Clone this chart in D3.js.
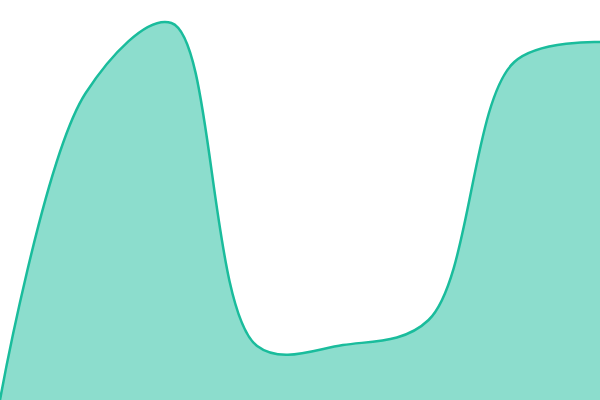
<!DOCTYPE html>
<html>
<head>
<meta charset="utf-8">
<script src="https://cdn.jsdelivr.net/npm/d3@7"></script>
<style>
  body { margin: 0; background: #fff; }
  svg { display: block; }
</style>
</head>
<body>
<svg id="chart"></svg>
<script>
// data
const categories = d3.range(8);
const values = [0, 76.75, 94.25, 13.5, 13.75, 20, 84.5, 89.5];

const width = 600;
const height = 400;

const svg = d3.select('#chart')
  .attr('width', width)
  .attr('height', height);

const xScale = d3.scalePoint()
  .domain(categories)
  .range([0, width]);

const yScale = d3.scaleLinear()
  .domain([0, 100])
  .range([height, 0]);

const area = d3.area()
  .x((d, i) => xScale(categories[i]))
  .y0(height)
  .y1(d => yScale(d))
  .curve(d3.curveCatmullRom);

const line = d3.line()
  .x((d, i) => xScale(categories[i]))
  .y(d => yScale(d))
  .curve(d3.curveCatmullRom);

svg.append('path')
  .datum(values)
  .attr('d', area)
  .attr('fill', '#1abc9c')
  .attr('fill-opacity', 0.5);

svg.append('path')
  .datum(values)
  .attr('d', line)
  .attr('fill', 'none')
  .attr('stroke', '#1abc9c')
  .attr('stroke-width', 2.5);
</script>
</body>
</html>
